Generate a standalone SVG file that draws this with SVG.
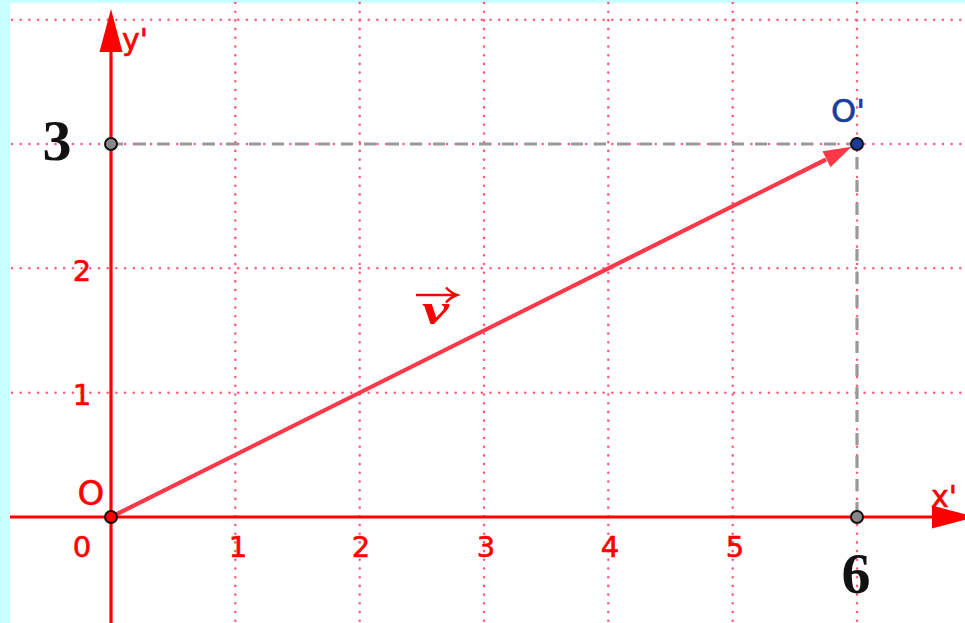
<svg xmlns="http://www.w3.org/2000/svg" width="965" height="623" viewBox="0 0 965 623">
<style>
.grid{stroke:#ff5c7a;stroke-width:2.6;stroke-dasharray:0 8.7;stroke-linecap:round;fill:none}
.axis{stroke:#ff0000;stroke-width:3.2;fill:none}
.dash{stroke:#999;stroke-width:3.2;stroke-dasharray:12 11;fill:none}
.lbl{font-family:"DejaVu Sans",sans-serif;fill:#ff0000;stroke:#ff0000;stroke-width:0.6}
.big{font-family:"Liberation Serif",serif;font-weight:bold;fill:#111}
.pt{stroke:#111;stroke-width:2}
</style>
<rect x="0" y="0" width="965" height="623" fill="#c8ffff"/>
<rect x="10" y="3" width="955" height="620" fill="#ffffff"/>
<g id="grid">
<path class="grid" d="M235.3 3V623M359.7 3V623M484 3V623M608.3 3V623M732.7 3V623M857 3V623"/>
<path class="grid" d="M12 19.7H965M12 144H965M12 268.3H965M12 392.7H965"/>
</g>
<g id="connectors">
<path class="dash" d="M111 144H857V517"/>
<g id="axes">
<path class="axis" d="M10 517H935"/>
<path d="M975 517L932 505.5V528.5Z" fill="#ff0000"/>
<path class="axis" d="M111 623V50"/>
<path d="M111 9L99.5 52H122.5Z" fill="#ff0000"/>
</g>
<g id="vector">
<path d="M111 517L826 159.5" stroke="#ff3848" stroke-width="4.2" fill="none"/>
<path d="M851.6 146.7L830.5 167.2L822.5 151.2Z" fill="#ff3848"/>
</g>
</g>
<g id="labels">
<text class="lbl" x="135" y="50" font-size="30" text-anchor="middle">y'</text>
<text class="lbl" x="944" y="507" font-size="30" text-anchor="middle">x'</text>
<text class="lbl" x="82" y="557" font-size="29" text-anchor="middle">0</text>
<text class="lbl" x="238" y="557" font-size="29" text-anchor="middle">1</text>
<text class="lbl" x="361" y="557" font-size="29" text-anchor="middle">2</text>
<text class="lbl" x="486" y="557" font-size="29" text-anchor="middle">3</text>
<text class="lbl" x="610" y="557" font-size="29" text-anchor="middle">4</text>
<text class="lbl" x="735" y="557" font-size="29" text-anchor="middle">5</text>
<text class="lbl" x="82" y="405" font-size="29" text-anchor="middle">1</text>
<text class="lbl" x="82" y="281" font-size="29" text-anchor="middle">2</text>
<text class="big" x="57" y="160" font-size="58" text-anchor="middle">3</text>
<text class="big" x="856" y="593" font-size="58" text-anchor="middle">6</text>
</g>
<g id="v-label">
<text x="422" y="324" font-family="Liberation Serif,serif" font-style="italic" font-weight="bold" font-size="44" fill="#ff0000" textLength="27" lengthAdjust="spacingAndGlyphs">v</text>
<path d="M416 295H456M446 287.5Q451 293 457 295Q451 297 446 302.5" stroke="#ff0000" stroke-width="2.4" fill="none"/>
</g>
<g id="point-A"><circle class="pt" cx="111" cy="144" r="6" fill="#888"/></g>
<g id="point-B"><circle class="pt" cx="857" cy="517" r="6" fill="#888"/></g>
<g id="point-O"><circle class="pt" cx="111" cy="517" r="6" fill="#ff0000"/>
<text class="lbl" x="91" y="505" font-size="34" text-anchor="middle">O</text></g>
<g id="point-Oprime"><circle class="pt" cx="857" cy="144" r="6" fill="#1a3c9c"/>
<text x="831" y="122" font-family="DejaVu Sans,sans-serif" font-size="32" fill="#1a3c9c" stroke="#1a3c9c" stroke-width="0.6">O'</text></g>
</svg>
